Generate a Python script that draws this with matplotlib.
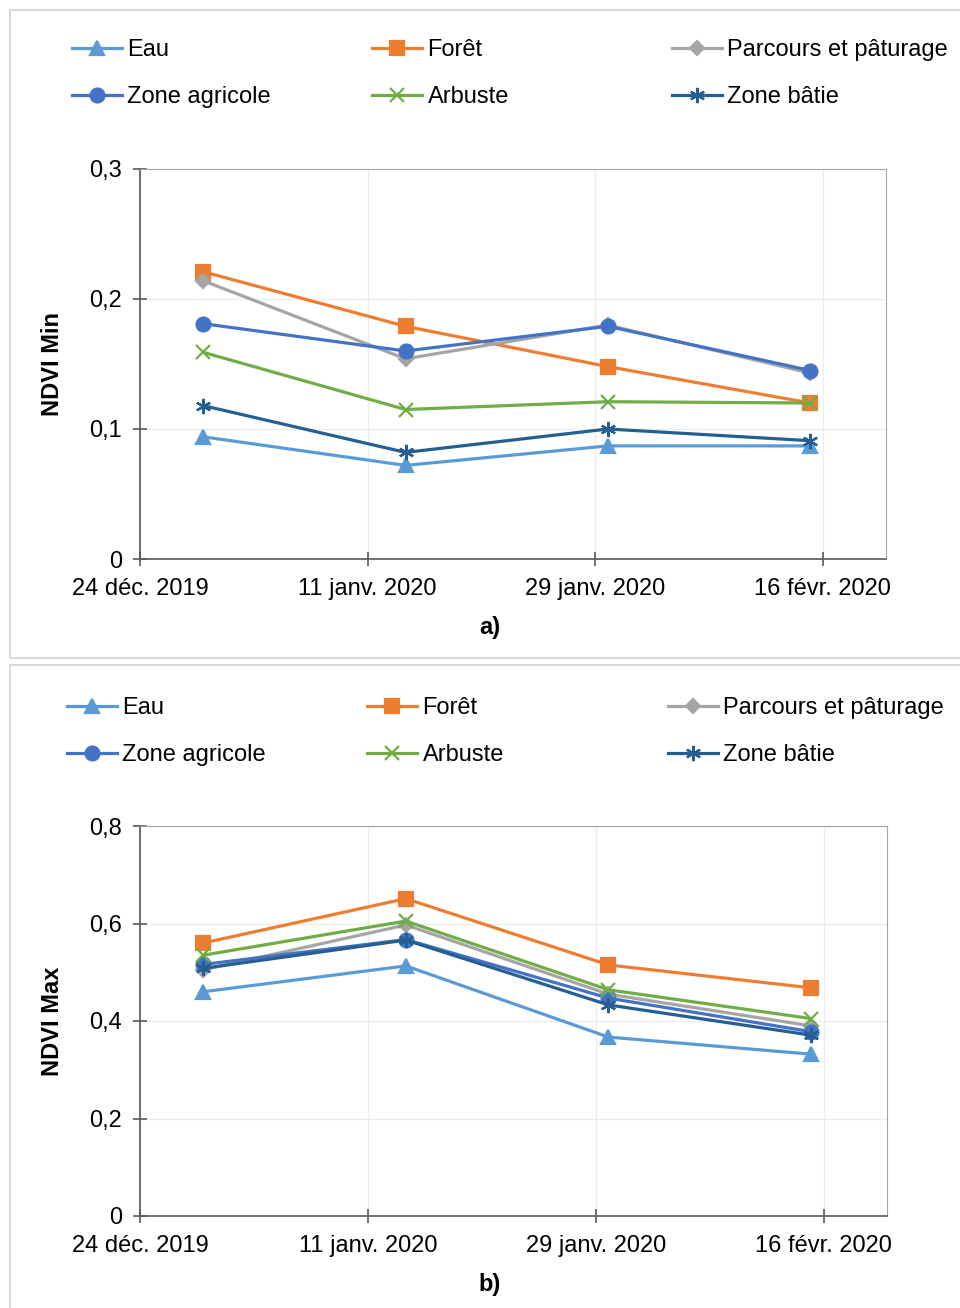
import numpy as np
import matplotlib
matplotlib.use("Agg")
import matplotlib.pyplot as plt
import matplotlib.dates as mdates
from matplotlib.patches import Rectangle
from datetime import date

plt.rcParams['font.family'] = ['Liberation Sans', 'DejaVu Sans']

dates = [date(2019, 12, 29), date(2020, 1, 14), date(2020, 1, 30), date(2020, 2, 15)]
tick_dates = [date(2019, 12, 24), date(2020, 1, 11), date(2020, 1, 29), date(2020, 2, 16)]
tick_labels = ['24 déc. 2019', '11 janv. 2020', '29 janv. 2020', '16 févr. 2020']

classes = ['Eau', 'Forêt', 'Parcours et pâturage', 'Zone agricole', 'Arbuste', 'Zone bâtie']

# NDVI Min
eau_min = [0.094, 0.072, 0.087, 0.087]
foret_min = [0.221, 0.179, 0.148, 0.120]
parcours_min = [0.214, 0.154, 0.180, 0.143]
agricole_min = [0.181, 0.160, 0.179, 0.145]
arbuste_min = [0.159, 0.115, 0.121, 0.120]
batie_min = [0.118, 0.082, 0.100, 0.091]

# NDVI Max
eau_max = [0.460, 0.513, 0.367, 0.332]
foret_max = [0.560, 0.651, 0.515, 0.468]
parcours_max = [0.505, 0.597, 0.455, 0.390]
agricole_max = [0.516, 0.567, 0.447, 0.378]
arbuste_max = [0.535, 0.605, 0.464, 0.405]
batie_max = [0.508, 0.566, 0.433, 0.371]

colors = ['#5B9BD5', '#ED7D31', '#A5A5A5', '#4472C4', '#70AD47', '#255E91']
markers = ['^', 's', 'D', 'o', 'x', (6, 2, 0)]
msizes = [10, 10, 7, 10, 10, 11]

FS = 17
W, H = 960, 1308
fig = plt.figure(figsize=(W / 100, H / 100), dpi=100)

# chart boxes
fig.add_artist(Rectangle((10 / W, 1 - 658 / H), 960 / W, 648 / H, transform=fig.transFigure,
                         fill=False, edgecolor='#d9d9d9', lw=1.5))
fig.add_artist(Rectangle((10 / W, -0.01), 960 / W, (1308 - 665) / H + 0.01, transform=fig.transFigure,
                         fill=False, edgecolor='#d9d9d9', lw=1.5))


def draw_panel(rect, series, ylim, yticks, ylabels, ylabel, letter, letter_y, leg_y, leg_x):
    ax = fig.add_axes(rect)
    handles = []
    for vals, c, m, ms, name in zip(series, colors, markers, msizes, classes):
        h, = ax.plot(dates, vals, color=c, marker=m, markersize=ms, lw=2.3,
                     markeredgewidth=1.6, label=name)
        handles.append(h)
    ax.set_xlim(date(2019, 12, 24), date(2020, 2, 21))
    ax.set_ylim(*ylim)
    ax.set_xticks(tick_dates)
    ax.set_xticklabels(tick_labels, fontsize=FS)
    ax.set_yticks(yticks)
    ax.set_yticklabels(ylabels, fontsize=FS)
    ax.grid(True, color='#ececec', lw=1)
    ax.set_axisbelow(True)
    for s in ['top', 'right']:
        ax.spines[s].set_color('#a6a6a6')
    for s in ['left', 'bottom']:
        ax.spines[s].set_color('#595959')
        ax.spines[s].set_linewidth(1.2)
    ax.tick_params(axis='both', direction='inout', length=10, color='#595959', width=1.2)
    ax.tick_params(axis='x', pad=9)
    ax.tick_params(axis='y', pad=8)
    ax.set_ylabel(ylabel, fontsize=FS, fontweight='bold', labelpad=18)
    fig.text(490 / W, 1 - letter_y / H, letter, fontsize=FS, fontweight='bold',
             ha='center', va='center')
    # legend: three columns of two rows
    for col in range(3):
        hs = [handles[col], handles[col + 3]]
        fig.legend(hs, [h.get_label() for h in hs], loc='upper left',
                   bbox_to_anchor=(leg_x[col] / W, 1 - leg_y / H),
                   frameon=False, fontsize=FS, handlelength=2.1,
                   handletextpad=0.25, labelspacing=1.05, borderaxespad=0,
                   borderpad=0)
    return ax


draw_panel([140 / W, 1 - 559 / H, 746 / W, 390 / H],
           [eau_min, foret_min, parcours_min, agricole_min, arbuste_min, batie_min],
           (0, 0.3), [0, 0.1, 0.2, 0.3], ['0', '0,1', '0,2', '0,3'],
           'NDVI Min', 'a)', 628, 39, [72, 372, 672])

draw_panel([140 / W, 1 - 1216 / H, 747 / W, 390 / H],
           [eau_max, foret_max, parcours_max, agricole_max, arbuste_max, batie_max],
           (0, 0.8), [0, 0.2, 0.4, 0.6, 0.8], ['0', '0,2', '0,4', '0,6', '0,8'],
           'NDVI Max', 'b)', 1285, 697, [67, 367, 668])

fig.savefig('out.png', dpi=100)
